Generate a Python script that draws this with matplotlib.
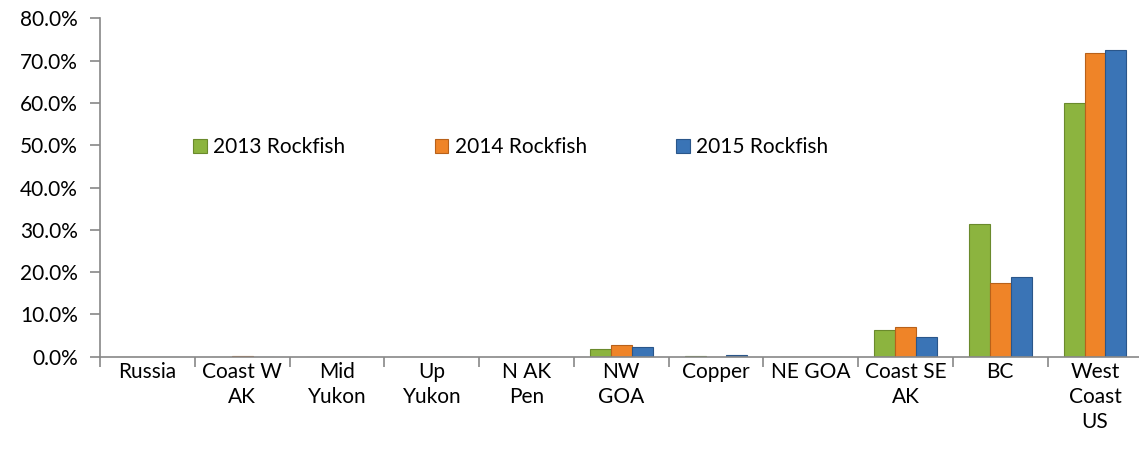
import numpy as np
import matplotlib.pyplot as plt
from matplotlib.ticker import FuncFormatter, FixedLocator

regions = ["Russia", "Coast W\nAK", "Mid\nYukon", "Up\nYukon", "N AK\nPen", "NW\nGOA",
           "Copper", "NE GOA", "Coast SE\nAK", "BC", "West\nCoast\nUS"]
rock_2013 = [0.0, 0.0, 0.0, 0.0, 0.0, 1.9, 0.1, 0.0, 6.4, 31.4, 59.9]
rock_2014 = [0.0, 0.1, 0.0, 0.0, 0.0, 2.9, 0.0, 0.0, 7.1, 17.5, 71.7]
rock_2015 = [0.0, 0.0, 0.0, 0.0, 0.0, 2.4, 0.5, 0.0, 4.7, 18.9, 72.6]
labels = ["2013 Rockfish", "2014 Rockfish", "2015 Rockfish"]
colors = ["#8cb43f", "#ef8428", "#3a74b6"]
edges = ["#6a8a2c", "#b8611a", "#2a568a"]

plt.rcParams["font.family"] = ["Lato", "DejaVu Sans"]

fig = plt.figure(figsize=(11.39, 4.67), dpi=100)
ax = fig.add_axes([0.088, 0.236, 0.915, 0.725])

x = np.arange(len(regions))
w = 0.22
for i, (vals, lab) in enumerate(zip([rock_2013, rock_2014, rock_2015], labels)):
    ax.bar(x + (i - 1) * w, vals, width=w, color=colors[i], edgecolor=edges[i],
           linewidth=0.8, label=lab)

ax.set_xlim(-0.5, len(regions) - 0.5)
ax.set_ylim(0, 80)
ax.set_yticks(np.arange(0, 81, 10))
ax.yaxis.set_major_formatter(FuncFormatter(lambda v, _: f"{v:.1f}%"))
ax.set_xticks(x)
ax.set_xticklabels(regions, fontsize=15, linespacing=1.3, va="top")
ax.xaxis.set_minor_locator(FixedLocator(np.arange(-0.5, len(regions), 1.0)))
ax.tick_params(axis="x", which="major", length=0, pad=4)
ax.tick_params(axis="x", which="minor", length=7, color="#888888", width=1.2)
ax.tick_params(axis="y", length=7, color="#888888", width=1.2, labelsize=15, pad=9)

for side in ["top", "right"]:
    ax.spines[side].set_visible(False)
for side in ["left", "bottom"]:
    ax.spines[side].set_color("#888888")
    ax.spines[side].set_linewidth(1.2)

ax.legend(loc="center", bbox_to_anchor=(0.394, 0.62), ncol=3, frameon=False,
          fontsize=15, handlelength=0.65, handleheight=0.65, handletextpad=0.3,
          columnspacing=4.3)

fig.savefig("out.png", dpi=100)
